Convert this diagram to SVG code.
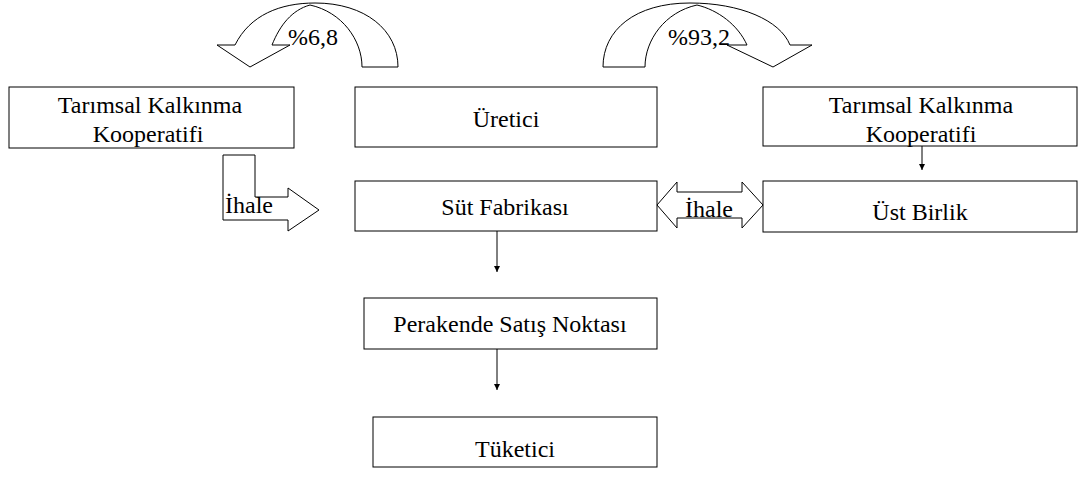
<svg xmlns="http://www.w3.org/2000/svg" width="1078" height="480" viewBox="0 0 1078 480">
<defs>
<marker id="ah" markerWidth="8" markerHeight="8" refX="6" refY="4" orient="auto" markerUnits="userSpaceOnUse">
<path d="M0,1 L6,4 L0,7 Z" fill="#000"/>
</marker>
</defs>
<style>
.box{fill:#fff;stroke:#000;stroke-width:1}
.sh{fill:none;stroke:#000;stroke-width:1;stroke-linejoin:miter}
.con{stroke:#000;stroke-width:1;fill:none}
text{font-family:'Liberation Serif','DejaVu Serif',serif;font-size:24px;fill:#000}
</style>
<rect width="1078" height="480" fill="#fff"/>

<g id="curve-left">
<path class="sh" d="M235,45 C250,15 280,3 315,3 C365,3 398,30 398,67 L362,67 C362,40 342,12 310,5 C292,10 280,25 272,45"/>
<path class="sh" d="M235,45 L217,45 L250,67 L290,45 L272,45"/>
<text x="288" y="45">%6,8</text>
</g>

<g id="curve-right">
<path class="sh" d="M790,45 C780,20 740,3 690,3 C635,3 603,30 603,67 L645,67 C645,40 665,12 697,5 C718,10 738,25 747,45"/>
<path class="sh" d="M747,45 L727,45 L773,67 L812,45 L790,45"/>
<text x="668" y="45">%93,2</text>
</g>

<g id="tkk-left" text-anchor="middle">
<rect class="box" x="9" y="87" width="285" height="61"/>
<text x="150" y="113">Tarımsal Kalkınma</text>
<text x="148" y="142">Kooperatifi</text>
</g>

<g id="uretici" text-anchor="middle">
<rect class="box" x="355" y="87" width="302" height="60"/>
<text x="506" y="127">Üretici</text>
</g>

<g id="tkk-right" text-anchor="middle">
<rect class="box" x="763" y="87" width="314" height="59"/>
<text x="921" y="113">Tarımsal Kalkınma</text>
<text x="921" y="142">Kooperatifi</text>
</g>

<g id="sut-fabrikasi" text-anchor="middle">
<rect class="box" x="355" y="181" width="302" height="50"/>
<text x="505" y="215">Süt Fabrikası</text>
</g>

<g id="ust-birlik" text-anchor="middle">
<rect class="box" x="763" y="181" width="314" height="51"/>
<text x="920" y="220">Üst Birlik</text>
</g>

<g id="perakende" text-anchor="middle">
<rect class="box" x="364" y="298" width="293" height="51"/>
<text x="510" y="332">Perakende Satış Noktası</text>
</g>

<g id="tuketici" text-anchor="middle">
<rect class="box" x="373" y="417" width="284" height="50"/>
<text x="515" y="457">Tüketici</text>
</g>

<g id="ihale-left">
<path class="sh" d="M223,155 L255,155 L255,197 L288,197 L288,188 L319,210 L288,231 L288,220 L223,220 Z"/>
<text x="225" y="213">İhale</text>
</g>

<g id="ihale-right">
<path class="sh" d="M657,205 L677,182 L677,192 L742,192 L742,182 L763,205 L742,228 L742,218 L677,218 L677,228 Z"/>
<text x="685" y="217">İhale</text>
</g>

<g id="connectors">
<line class="con" x1="497" y1="231" x2="497" y2="272" marker-end="url(#ah)"/>
<line class="con" x1="497" y1="349" x2="497" y2="390" marker-end="url(#ah)"/>
<line class="con" x1="922" y1="146" x2="922" y2="170" marker-end="url(#ah)"/>
</g>
</svg>
